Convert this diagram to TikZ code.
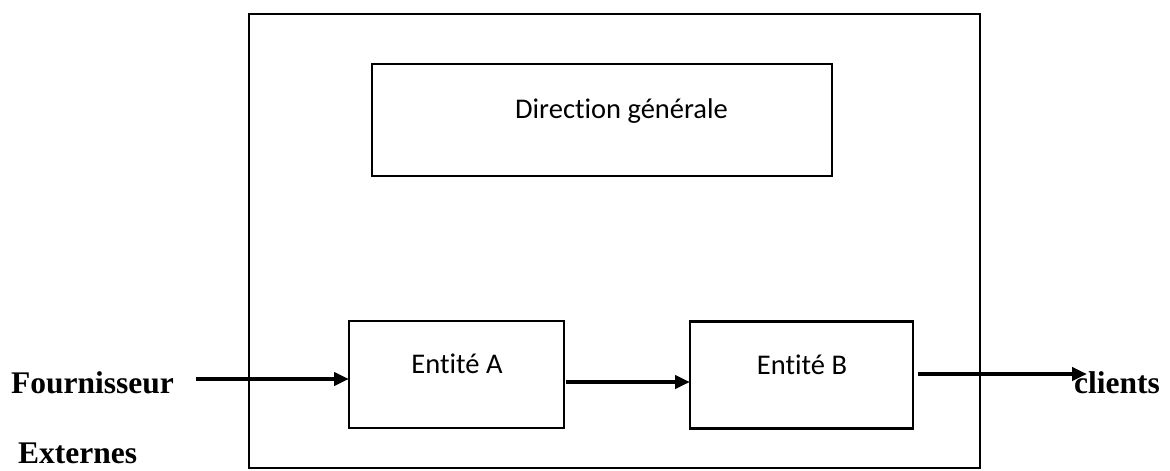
\documentclass[tikz,border=0pt]{standalone}
\usepackage{fontspec}
\setmainfont{Liberation Serif}
\newfontfamily\boxfont[Ligatures=NoCommon]{Carlito}
\usetikzlibrary{arrows.meta}
\begin{document}
\begin{tikzpicture}[x=1pt,y=-1pt,
  frame/.style={draw=black,line width=2.8pt,rectangle,inner sep=0pt,outer sep=0pt},
  boxtext/.style={font=\boxfont\fontsize{28.5}{34}\selectfont,anchor=base,inner sep=0pt},
  sidetext/.style={font=\bfseries\fontsize{31.5}{37}\selectfont,anchor=base west,inner sep=0pt},
  flow/.style={line width=3.8pt,-{Triangle[length=15pt,width=13pt]}}]
  \useasboundingbox (0,0) rectangle (1170,471);

  % enterprise boundary and its units
  \node[frame,minimum width=731pt,minimum height=454pt] (ent) at (614.5,241) {};
  \node[frame,minimum width=460pt,minimum height=112pt] (dg) at (602,120) {};
  \node[frame,minimum width=215pt,minimum height=107pt] (ea) at (456.5,374.5) {};
  \node[frame,minimum width=223pt,minimum height=107pt] (eb) at (801.5,375) {};

  % unit labels
  \node[boxtext] (dgt) at (621.5,118) {Direction générale};
  \node[boxtext] (eat) at (457,373) {Entité A};
  \node[boxtext] (ebt) at (802,374) {Entité B};

  % outside partners
  \node[sidetext] (four) at (11,393) {Fournisseur};
  \node[sidetext] (ext) at (18,463) {Externes};
  \node[sidetext] (cli) at (1074,393) {clients};

  % flow of goods
  \coordinate (fin) at (196,379);
  \coordinate (abo) at (566,382);
  \coordinate (bout) at (918,374);
  \coordinate (cin) at (1087,374);
  \draw[flow] (fin) -- (fin -| ea.west);
  \draw[flow] (abo) -- (abo -| eb.west);
  \draw[flow] (bout) -- (cin);
\end{tikzpicture}
\end{document}
